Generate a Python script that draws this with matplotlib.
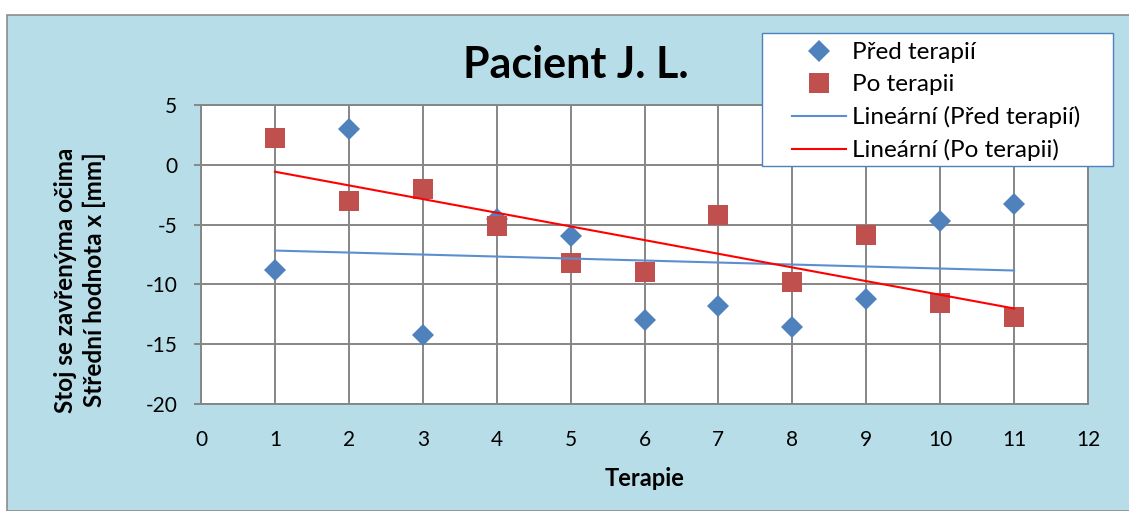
import numpy as np
import matplotlib.pyplot as plt
from matplotlib.patches import Rectangle

# data
terapie = [1, 2, 3, 4, 5, 6, 7, 8, 9, 10, 11]
pred_terapii = [-8.8, 3.0, -14.2, -4.5, -5.95, -13.0, -11.8, -13.6, -11.2, -4.7, -3.3]
po_terapii = [2.2, -3.0, -2.0, -5.1, -8.2, -9.0, -4.2, -9.8, -5.9, -11.55, -12.7]

xticks = list(range(0, 13))
yticks = [-20, -15, -10, -5, 0, 5]

blue = '#4F81BD'
red = '#C0504D'
bg = '#B7DDE8'
W, H = 1129, 511

plt.rcParams['font.family'] = ['Lato', 'DejaVu Sans']
plt.rcParams['axes.unicode_minus'] = False

fig = plt.figure(figsize=(W / 100, H / 100), dpi=100)
fig.patch.set_facecolor('white')
# chart area background with border
fig.patches.append(Rectangle((7 / W, 0), 1.0, (H - 15) / H,
                             transform=fig.transFigure, facecolor=bg,
                             edgecolor='#8C8C8C', linewidth=1.2, zorder=-5))

ax = fig.add_axes([201 / W, 1 - 404 / H, 887 / W, 299 / H])
ax.set_facecolor('white')

ax.plot(terapie, pred_terapii, linestyle='none', marker='D', ms=11.5, mew=0,
        color=blue, label='Před terapií', zorder=3)
ax.plot(terapie, po_terapii, linestyle='none', marker='s', ms=14.5, mew=0,
        color=red, label='Po terapii', zorder=3)

# linear trend lines
x = np.array(terapie)
k1, q1 = np.polyfit(x, pred_terapii, 1)
k2, q2 = np.polyfit(x, po_terapii, 1)
xs = np.array([x.min(), x.max()])
ax.plot(xs, k1 * xs + q1, color='#5B8FD0', lw=1.5, label='Lineární (Před terapií)', zorder=4)
ax.plot(xs, k2 * xs + q2, color='#FF0000', lw=1.5, label='Lineární (Po terapii)', zorder=4)

ax.set_xlim(0, 12)
ax.set_ylim(-20, 5)
ax.set_xticks(xticks)
ax.set_yticks(yticks)
ax.tick_params(labelsize=15, length=0, pad=19)
ax.tick_params(axis='y', length=5, width=1.4, color='#868686', direction='out', pad=12)
ax.grid(True, color='#868686', lw=1.4)
ax.set_axisbelow(True)
for s in ax.spines.values():
    s.set_color('#868686')
    s.set_linewidth(1.4)

ax.set_xlabel('Terapie', fontsize=17, fontweight='bold')
ax.xaxis.set_label_coords(0.5, (404 - 478) / 299)
ax.xaxis.label.set_va('center')
ax.set_ylabel('Stoj se zavřenýma očima\nStřední hodnota x [mm]', fontsize=17.5,
              fontweight='bold', linespacing=1.3)
ax.yaxis.set_label_coords((80 - 201) / 887, (404 - 280) / 299)
ax.yaxis.label.set_va('center')

fig.text(576 / W, 1 - 65 / H, 'Pacient J. L.', fontsize=31,
         fontweight='bold', ha='center', va='center')

# legend box
fig.patches.append(Rectangle((762 / W, 1 - 166 / H), 351 / W, 133 / H,
                             transform=fig.transFigure, facecolor='white',
                             edgecolor=blue, linewidth=1.0, zorder=5))
leg = fig.legend(loc='upper left', bbox_to_anchor=(790 / W, 1 - 40 / H),
                 fontsize=17.5, frameon=False, borderpad=0.1,
                 labelspacing=0.45, handlelength=2.2, handletextpad=0.25,
                 borderaxespad=0)
leg.set_zorder(6)

fig.savefig('out.png', dpi=100)
